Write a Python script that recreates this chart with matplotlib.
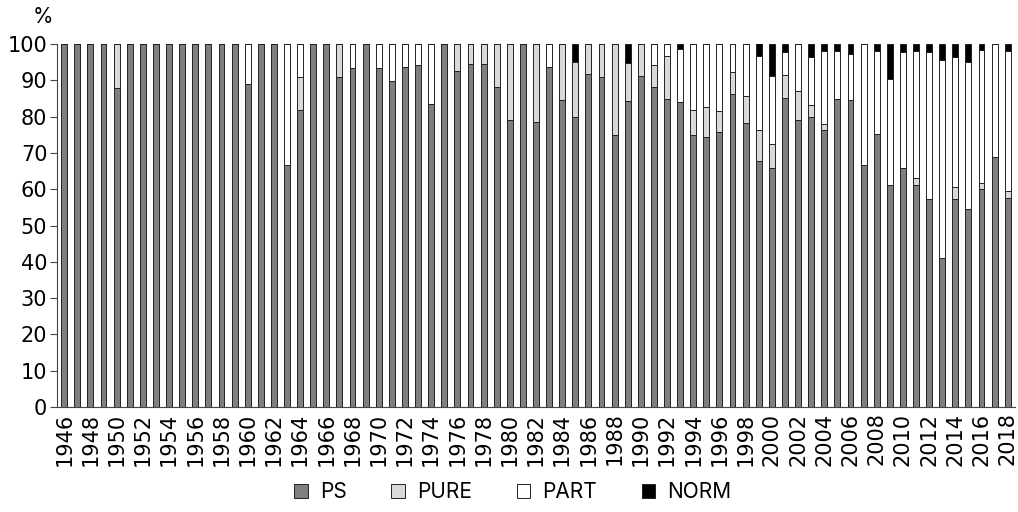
import numpy as np
import matplotlib
matplotlib.use("Agg")
from matplotlib import pyplot as plt

plt.rcParams['font.family'] = ['Inter', 'DejaVu Sans']

years = np.arange(1946, 2019)

# share of each type per year, %
ps = [100, 100, 100, 100, 88, 100, 100, 100, 100, 100,
      100, 100, 100, 100, 89, 100, 100, 66.7, 81.8, 100,
      100, 90.8, 93.3, 100, 93.3, 89.9, 93.6, 94.2, 83.5, 100,
      92.7, 94.5, 94.5, 88.1, 79.0, 100, 78.4, 93.7, 84.6, 80.0,
      91.7, 90.8, 74.9, 84.2, 91.1, 88.1, 84.9, 84.0, 74.9, 74.5,
      75.8, 86.2, 78.3, 67.7, 65.9, 85.0, 79.2, 79.9, 76.2, 84.8,
      84.7, 66.6, 75.2, 61.3, 65.9, 61.3, 57.4, 41.1, 57.2, 54.5,
      60.1, 68.8, 57.6]
pure = [0, 0, 0, 0, 12, 0, 0, 0, 0, 0,
        0, 0, 0, 0, 0, 0, 0, 0, 9.2, 0,
        0, 9.2, 0, 0, 0, 0, 0, 0, 0, 0,
        7.3, 5.5, 5.5, 11.9, 21.0, 0, 21.6, 0, 15.4, 15.0,
        8.3, 9.2, 25.1, 10.5, 8.9, 6.1, 11.7, 0, 7.0, 8.1,
        5.7, 6.0, 7.4, 8.6, 6.5, 6.4, 7.9, 3.2, 1.9, 0,
        0, 0, 0, 0, 0, 1.9, 0, 0, 3.5, 0,
        1.5, 0, 2.0]
part = [0, 0, 0, 0, 0, 0, 0, 0, 0, 0,
        0, 0, 0, 0, 11, 0, 0, 33.3, 9.0, 0,
        0, 0, 6.7, 0, 6.7, 10.1, 6.4, 5.8, 16.5, 0,
        0, 0, 0, 0, 0, 0, 0, 6.3, 0, 0,
        0, 0, 0, 0, 0, 5.8, 3.4, 14.6, 18.1, 17.4,
        18.5, 7.8, 14.3, 20.4, 18.9, 6.4, 12.9, 13.4, 20.1, 13.4,
        12.6, 33.4, 23.0, 29.2, 31.9, 34.9, 40.3, 54.5, 35.8, 40.6,
        36.8, 31.2, 38.4]
norm = [0, 0, 0, 0, 0, 0, 0, 0, 0, 0,
        0, 0, 0, 0, 0, 0, 0, 0, 0, 0,
        0, 0, 0, 0, 0, 0, 0, 0, 0, 0,
        0, 0, 0, 0, 0, 0, 0, 0, 0, 5.0,
        0, 0, 0, 5.3, 0, 0, 0, 1.4, 0, 0,
        0, 0, 0, 3.5, 8.7, 2.2, 0, 3.5, 1.8, 1.8,
        2.7, 0, 1.8, 9.5, 2.2, 1.8, 2.3, 4.4, 3.5, 4.9,
        1.6, 0, 2.0]

series = [("PS", ps, "#7f7f7f"), ("PURE", pure, "#d9d9d9"),
          ("PART", part, "white"), ("NORM", norm, "black")]

fig = plt.figure(figsize=(10.18, 5.12), dpi=100)
ax = fig.add_axes([0.056, 0.205, 0.941, 0.709])

bottom = np.zeros(len(years))
for name, vals, col in series:
    vals = np.array(vals, dtype=float)
    ax.bar(years, vals, width=0.45, bottom=bottom, color=col,
           edgecolor="#222222", linewidth=0.7, label=name)
    bottom += vals

ax.set_xlim(1945.45, 2018.55)
ax.set_ylim(0, 100)
ax.set_yticks(np.arange(0, 101, 10))
ax.set_xticks(years[::2])
ax.set_xticklabels([str(y) for y in years[::2]], rotation=90)

ax.spines['top'].set_visible(False)
ax.spines['right'].set_visible(False)
ax.spines['left'].set_color("#444444")
ax.spines['bottom'].set_color("#444444")
ax.tick_params(axis='y', labelsize=15, length=5, color="#444444", pad=2,
               labelfontfamily='DejaVu Sans')
ax.tick_params(axis='x', labelsize=15, length=0, pad=4,
               labelfontfamily='DejaVu Sans')

fig.text(0.032, 0.955, "%", fontsize=15)

ax.legend(loc="center", bbox_to_anchor=(0.476, -0.234), ncol=4,
          frameon=False, fontsize=15, handlelength=0.65, handleheight=0.65,
          columnspacing=2.15, handletextpad=0.58)

fig.savefig("out.png", dpi=100)
